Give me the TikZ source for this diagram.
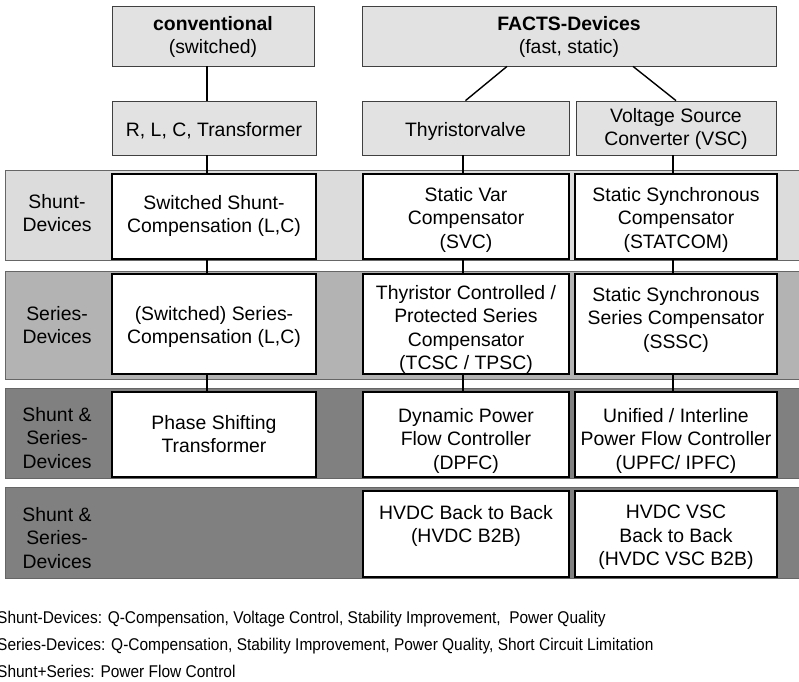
\documentclass[tikz,border=0pt]{standalone}
\usepackage{fontspec}
\setmainfont{Liberation Sans}
\usepackage{graphicx}
\usetikzlibrary{fit}

\definecolor{headfill}{HTML}{E2E2E2}
\definecolor{shuntfill}{HTML}{DCDCDC}
\definecolor{seriesfill}{HTML}{B3B3B3}
\definecolor{bothfill}{HTML}{808080}

\newcommand{\notetext}[1]{\scalebox{0.91}[1]{#1}}

\begin{document}
\begin{tikzpicture}[x=1pt,y=-1pt,
  head/.style={draw=black!75, fill=headfill, line width=0.8pt, inner sep=0pt},
  band/.style={draw=black!60, line width=0.9pt, inner sep=0pt},
  cell/.style={draw=black, fill=white, line width=2.6pt, inner sep=0pt},
  txt/.style={align=center, inner sep=0pt, anchor=north,
              font=\fontsize{19.4}{23.5}\selectfont},
  note/.style={inner sep=0pt, anchor=base west, font=\fontsize{17}{19}\selectfont},
  link/.style={line width=1.4pt, draw=black}]
\useasboundingbox (0,0) rectangle (799,681);

% ---- category headers ----
\node[head, fit={(112,6) (314,66)}]  (conv)  {};
\node[head, fit={(362,6) (776,66)}]  (facts) {};
\node[head, fit={(112,101) (316,155)}] (rlc)  {};
\node[head, fit={(362,101) (569,155)}] (thyr) {};
\node[head, fit={(576,101) (776,155)}] (vsc)  {};

\node[txt] (tconv)  at (213,16)  {\textbf{conventional}\\(switched)};
\node[txt] (tfacts) at (569,16)  {\textbf{FACTS-Devices}\\(fast, static)};
\node[txt] (trlc)   at (214,122) {R, L, C, Transformer};
\node[txt] (tthyr)  at (465.5,122) {Thyristorvalve};
\node[txt] (tvsc)   at (676,108) {Voltage Source\\Converter (VSC)};

% ---- device bands ----
\node[band, fill=shuntfill,  fit={(5,170) (812,260)}] (b1) {};
\node[band, fill=seriesfill, fit={(5,271) (812,379)}] (b2) {};
\node[band, fill=bothfill,   fit={(5,388) (812,478)}] (b3) {};
\node[band, fill=bothfill,   fit={(5,487) (812,578)}] (b4) {};

\node[txt] (l1) at (57,194) {Shunt-\\Devices};
\node[txt] (l2) at (57,306) {Series-\\Devices};
\node[txt] (l3) at (57,407) {Shunt \&\\Series-\\Devices};
\node[txt] (l4) at (57,507) {Shunt \&\\Series-\\Devices};

% ---- connectors ----
\draw[link] (conv.south -| 207,0) -- (rlc.north -| 207,0);
\draw[link] (facts.south -| 507,0) -- (thyr.north);
\draw[link] (facts.south -| 633,0) -- (vsc.north);

% ---- device cells ----
\node[cell, fit={(112,174) (316,259)}] (c11) {};
\node[cell, fit={(363,174) (569,259)}] (c12) {};
\node[cell, fit={(575,174) (777,259)}] (c13) {};
\node[cell, fit={(112,274) (316,374)}] (c21) {};
\node[cell, fit={(363,274) (569,374)}] (c22) {};
\node[cell, fit={(575,274) (777,374)}] (c23) {};
\node[cell, fit={(112,392) (316,477)}] (c31) {};
\node[cell, fit={(363,392) (569,477)}] (c32) {};
\node[cell, fit={(575,392) (777,477)}] (c33) {};
\node[cell, fit={(363,491) (569,577)}] (c42) {};
\node[cell, fit={(575,491) (777,577)}] (c43) {};

% vertical links through the bands
\foreach \a/\b in {rlc/c11, c11/c21, c21/c31}
  \draw[link] (\a.south -| 207,0) -- (\b.north -| 207,0);
\foreach \a/\b in {thyr/c12, c12/c22, c22/c32}
  \draw[link] (\a.south -| 463,0) -- (\b.north -| 463,0);
\foreach \a/\b in {vsc/c13, c13/c23, c23/c33}
  \draw[link] (\a.south -| 673,0) -- (\b.north -| 673,0);

% ---- cell texts ----
\node[txt] (t11) at (214,195) {Switched Shunt-\\Compensation (L,C)};
\node[txt] (t12) at (466,187) {Static Var\\Compensator\\(SVC)};
\node[txt] (t13) at (676,187) {Static Synchronous\\Compensator\\(STATCOM)};
\node[txt] (t21) at (214,306) {(Switched) Series-\\Compensation (L,C)};
\node[txt] (t22) at (466,285) {Thyristor Controlled /\\Protected Series\\Compensator\\(TCSC / TPSC)};
\node[txt] (t23) at (676,287) {Static Synchronous\\Series Compensator\\(SSSC)};
\node[txt] (t31) at (214,415) {Phase Shifting\\Transformer};
\node[txt] (t32) at (466,408) {Dynamic Power\\Flow Controller\\(DPFC)};
\node[txt] (t33) at (676,408) {Unified / Interline\\Power Flow Controller\\(UPFC/ IPFC)};
\node[txt] (t42) at (466,505) {HVDC Back to Back\\(HVDC B2B)};
\node[txt] (t43) at (676,505) {HVDC VSC\\Back to Back\\(HVDC VSC B2B)};

% ---- notes ----
\node[note] (n1) at (-3,623) {\notetext{Shunt-Devices: Q-Compensation, Voltage Control, Stability Improvement, \ Power Quality}};
\node[note] (n2) at (-3,650) {\notetext{Series-Devices: Q-Compensation, Stability Improvement, Power Quality, Short Circuit Limitation}};
\node[note] (n3) at (-3,677) {\notetext{Shunt+Series: Power Flow Control}};
\end{tikzpicture}
\end{document}
